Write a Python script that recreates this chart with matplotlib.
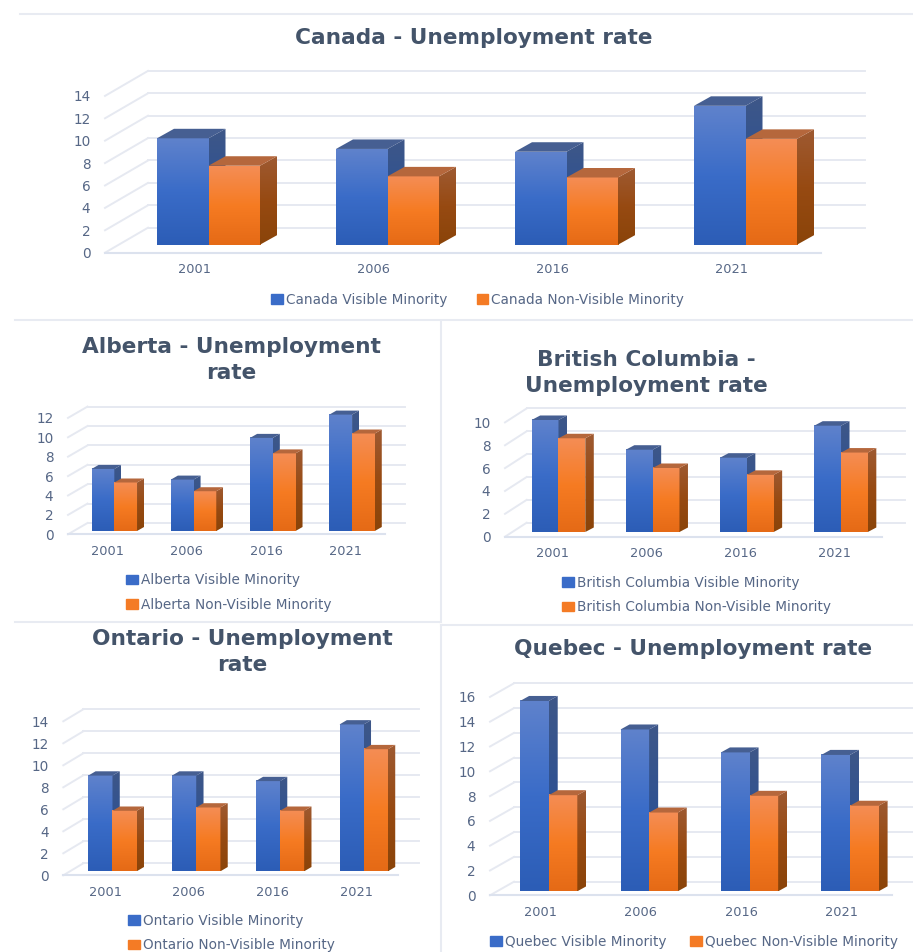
import numpy as np
import matplotlib
matplotlib.use("Agg")
import matplotlib.pyplot as plt
from matplotlib.colors import LinearSegmentedColormap
from matplotlib.lines import Line2D
from matplotlib.patches import Patch, Polygon

W = 913
H = 952

years = ["2001", "2006", "2016", "2021"]

canada_vm = [9.5, 8.55, 8.3, 12.4]
canada_nvm = [7.05, 6.1, 6.0, 9.45]
alberta_vm = [6.4, 5.3, 9.6, 12.0]
alberta_nvm = [5.0, 4.1, 8.0, 10.05]
bc_vm = [9.8, 7.2, 6.5, 9.3]
bc_nvm = [8.2, 5.6, 5.0, 6.95]
ontario_vm = [8.7, 8.7, 8.2, 13.35]
ontario_nvm = [5.5, 5.8, 5.5, 11.1]
quebec_vm = [15.35, 13.05, 11.2, 11.0]
quebec_nvm = [7.75, 6.35, 7.7, 6.9]

title_col = "#44546A"
label_col = "#566786"
grid_col = "#E6E9F1"
sep_col = "#E8EBF2"

vm_front = LinearSegmentedColormap.from_list("vf", ["#2C5DB6", "#3A6CC8", "#5F82CC"])
nvm_front = LinearSegmentedColormap.from_list("nf", ["#E56A16", "#F67B22", "#F48D55"])
vm_side = LinearSegmentedColormap.from_list("vs", ["#234C96", "#2F5292", "#3E5788"])
nvm_side = LinearSegmentedColormap.from_list("ns", ["#8A4409", "#974A12", "#9E5A32"])
vm_top = "#465F92"
nvm_top = "#B5673C"

grad = np.linspace(0, 1, 128).reshape(-1, 1)


def draw_box(ax, bar, dx, dy, front, side, top, z):
    # bar front is the real bar, side and top are sheared off it
    x0, b = bar.get_x(), bar.get_y()
    w, h = bar.get_width(), bar.get_height()
    x1 = x0 + w
    bar.set_zorder(z)
    bar.set_clip_on(False)
    im = ax.imshow(grad, cmap=front, origin="lower", aspect="auto", interpolation="bilinear",
                   extent=(x0, x1, b, b + h), zorder=z + 0.1)
    im.set_clip_on(False)
    side_pts = [(x1, b), (x1 + dx, b + dy), (x1 + dx, b + h + dy), (x1, b + h)]
    poly = Polygon(side_pts, closed=True, fc="none", ec="none", zorder=z, clip_on=False)
    ax.add_patch(poly)
    im = ax.imshow(grad, cmap=side, origin="lower", aspect="auto", interpolation="bilinear",
                   extent=(x1, x1 + dx, b, b + h + dy), zorder=z + 0.1)
    im.set_clip_path(poly)
    im.set_clip_box(fig.bbox)
    ax.add_patch(Polygon([(x0, b + h), (x0 + dx, b + h + dy), (x1 + dx, b + h + dy), (x1, b + h)],
                         closed=True, fc=top, ec="none", zorder=z + 0.1, clip_on=False))


def panel(left, right, y0, unit, ymax, wall, floor, depth, bar_w, wall_right, vm, nvm):
    slot = (right - left) / 4
    ax = fig.add_axes([left / W, 1 - y0 / H, (right - left) / W, unit * ymax / H])
    ax.patch.set_visible(False)
    for s in ax.spines.values():
        s.set_visible(False)

    # pixels to data units
    wx, wy = wall[0] / slot, wall[1] / unit
    fx, fy = floor[0] / slot, floor[1] / unit
    dx, dy = depth[0] / slot, depth[1] / unit
    w = bar_w / slot
    end = -0.5 + (wall_right - left) / slot

    ticks = np.arange(0, ymax + 1, 2)
    for t in ticks:
        ax.plot([-0.5, -0.5 + wx], [t, t + wy], color=grid_col, lw=1.4, clip_on=False, zorder=1)
        ax.plot([-0.5 + wx, end], [t + wy, t + wy], color=grid_col, lw=1.4, clip_on=False, zorder=1)
    ax.plot([-0.5, 3.5], [0, 0], color="#DCE2EE", lw=1.5, clip_on=False, zorder=1)

    x = np.arange(4)
    bars1 = ax.bar(x + fx - w / 2, vm, width=w, bottom=fy, color="#3A6CC8")
    bars2 = ax.bar(x + fx + w / 2, nvm, width=w, bottom=fy, color="#F67B22")
    for i in range(4):
        z = 3 + i * 2
        draw_box(ax, bars1[i], dx, dy, vm_front, vm_side, vm_top, z)
        draw_box(ax, bars2[i], dx, dy, nvm_front, nvm_side, nvm_top, z + 1)

    ax.set_xlim(-0.5, 3.5)
    ax.set_ylim(0, ymax)
    ax.set_xticks(x)
    ax.set_xticklabels(years)
    ax.set_yticks(ticks)
    ax.tick_params(axis="x", length=0, pad=7.5, labelsize=9.3, labelcolor=label_col)
    ax.tick_params(axis="y", length=0, pad=10.5, labelsize=9.8, labelcolor=label_col)
    return ax


def add_legend(ax, names, px, py, ncol, gap=2.2):
    handles = [Patch(color="#3A6CC8", label=names[0]), Patch(color="#F47B25", label=names[1])]
    ax.legend(handles=handles, loc="center left", bbox_to_anchor=(px / W, 1 - py / H),
              bbox_transform=fig.transFigure, ncol=ncol, frameon=False, fontsize=9.8,
              labelcolor=label_col, borderpad=0, borderaxespad=0, handlelength=0.85,
              handleheight=0.7, handletextpad=0.22, labelspacing=0.75, columnspacing=gap)


def title(text, cx, cy):
    fig.text(cx / W, 1 - cy / H, text, ha="center", va="center", fontsize=15.6, fontweight="bold",
             color=title_col, linespacing=1.4)


fig = plt.figure(figsize=(W / 100, H / 100), dpi=100)

# panel borders
for x0, y0, x1, y1 in [(20, 14, 913, 14), (15, 320, 913, 320), (15, 622, 440, 622), (441, 625, 913, 625),
                       (441, 322, 441, 622), (441, 625, 441, 952)]:
    fig.add_artist(Line2D([x0 / W, x1 / W], [1 - y0 / H, 1 - y1 / H], color=sep_col, lw=1.5))

ax = panel(105, 821, 252.7, 11.2, 14, (43, 25), (14, 8), (17, 9.5), 51.5, 865, canada_vm, canada_nvm)
title("Canada - Unemployment rate", 474, 38)
add_legend(ax, ["Canada Visible Minority", "Canada Non-Visible Minority"], 271, 300, 2)

ax = panel(68, 385, 534.3, 9.7, 12, (19.5, 11.3), (6.7, 3.3), (7, 4), 22.7, 405, alberta_vm, alberta_nvm)
title("Alberta - Unemployment\nrate", 231, 360)
add_legend(ax, ["Alberta Visible Minority", "Alberta Non-Visible Minority"], 126, 592.5, 1)

ax = panel(505, 881.7, 536.7, 11.43, 10, (21.7, 14), (6.4, 4.7), (8.5, 4.5), 26.8, 905, bc_vm, bc_nvm)
title("British Columbia -\nUnemployment rate", 646.7, 373)
add_legend(ax, ["British Columbia Visible Minority", "British Columbia Non-Visible Minority"], 562, 595, 1)

ax = panel(63.3, 398.3, 875.3, 11, 14, (20, 12), (7.3, 4), (7.3, 4.3), 24.2, 419, ontario_vm, ontario_nvm)
title("Ontario - Unemployment\nrate", 242, 652)
add_legend(ax, ["Ontario Visible Minority", "Ontario Non-Visible Minority"], 128.3, 933, 1)

ax = panel(490, 891.7, 895.3, 12.4, 16, (24, 13.6), (8.5, 4), (9, 5), 28.6, 913, quebec_vm, quebec_nvm)
title("Quebec - Unemployment rate", 692.8, 649)
add_legend(ax, ["Quebec Visible Minority", "Quebec Non-Visible Minority"], 490, 942, 2, gap=1.76)

fig.savefig("out.png", dpi=100)
